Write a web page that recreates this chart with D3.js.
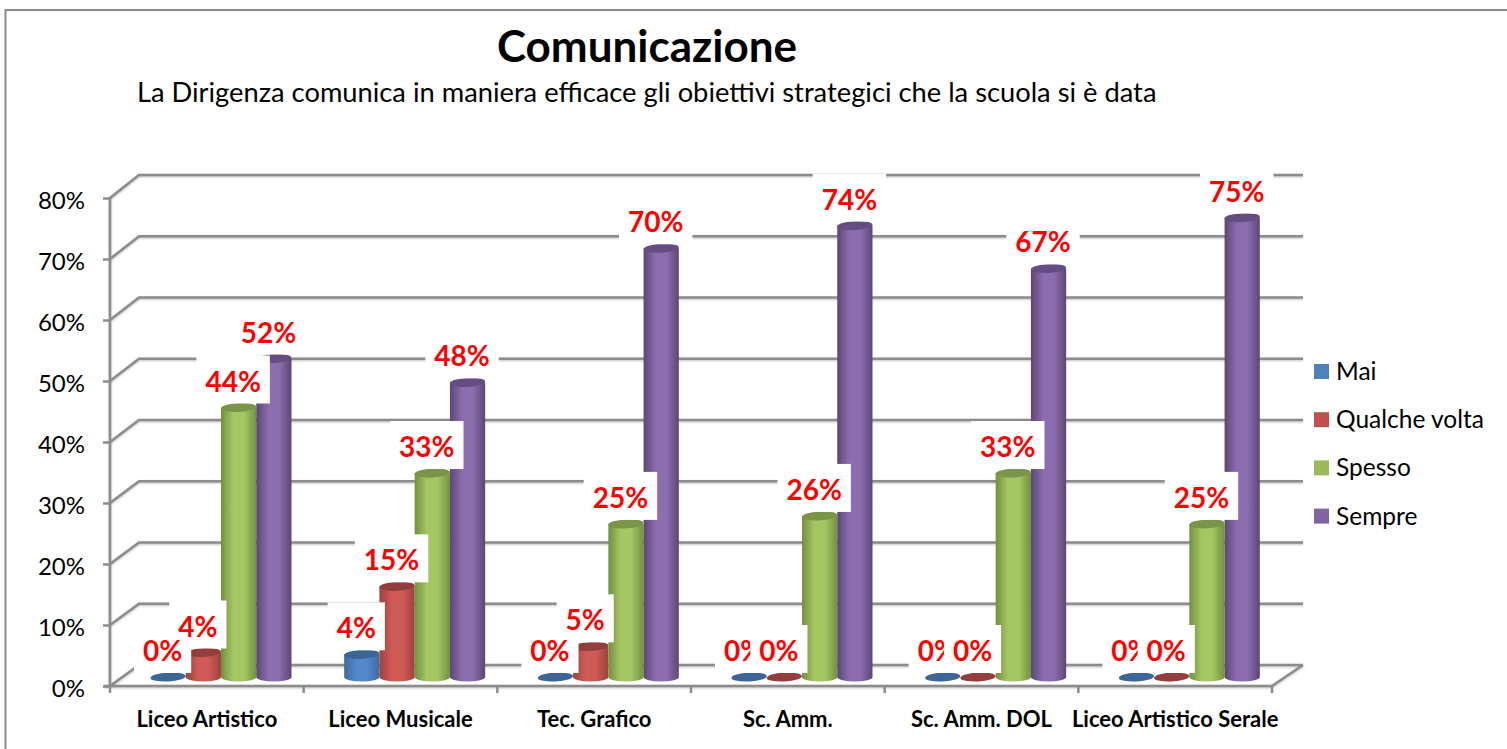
<!DOCTYPE html>
<html>
<head>
<meta charset="utf-8">
<script src="https://cdn.jsdelivr.net/npm/d3@7"></script>
<style>
  html, body { margin: 0; padding: 0; background: #fff; overflow: hidden; }
  svg { display: block; font-family: Lato, "Open Sans", sans-serif; }
  .axis path { display: none; }
  .axis line { stroke: #8c8c8c; stroke-width: 2.5; }
</style>
</head>
<body>
<svg id="chart" width="1507" height="749"></svg>
<script>
const categories = ["Liceo Artistico", "Liceo Musicale", "Tec. Grafico", "Sc. Amm.", "Sc. Amm. DOL", "Liceo Artistico Serale"];
const seriesNames = ["Mai", "Qualche volta", "Spesso", "Sempre"];
const mai = [0, 0.037, 0, 0, 0, 0];
const qualcheVolta = [0.04, 0.148, 0.05, 0, 0, 0];
const spesso = [0.44, 0.333, 0.25, 0.263, 0.333, 0.25];
const sempre = [0.52, 0.481, 0.70, 0.737, 0.667, 0.75];
const tickValues = [0, 0.1, 0.2, 0.3, 0.4, 0.5, 0.6, 0.7, 0.8];

const seriesValues = [mai, qualcheVolta, spesso, sempre];
const colors = [
  { edge: "#3f6a9e", mid: "#5189cb", cap: "#3c6695", key: "#4f81bd" },
  { edge: "#9c423f", mid: "#d05a56", cap: "#933e3c", key: "#c0504d" },
  { edge: "#72903e", mid: "#a5c763", cap: "#7a9448", key: "#9bbb59" },
  { edge: "#5c4774", mid: "#8b6db0", cap: "#644d80", key: "#8064a2" }
];

const svg = d3.select("#chart");
const defs = svg.append("defs");

// front corner of the 3d box
const plot = { left: 110, right: 1272, top: 198, bottom: 686 };
const backLeft = 139;
const backRight = 1303;

const x = d3.scaleBand().domain(categories).range([plot.left, plot.right]);
const y = d3.scaleLinear().domain([0, 0.8]).range([plot.bottom, plot.top]);
// back wall has its own slightly taller scale
const yBack = d3.scaleLinear().domain([0, 0.8]).range([665, 175]);
const barLift = 12;   // bars stand in front of the back wall
const xInner = d3.scaleBand().domain(seriesNames).range([40.5, 181.5]);

const rx = xInner.bandwidth() / 2;
const ry = 4.5;
const pct = d3.format(".0%");

colors.forEach((c, i) => {
  const grad = defs.append("linearGradient").attr("id", "cyl" + i);
  grad.append("stop").attr("offset", "0%").attr("stop-color", c.edge);
  grad.append("stop").attr("offset", "35%").attr("stop-color", c.mid);
  grad.append("stop").attr("offset", "65%").attr("stop-color", c.mid);
  grad.append("stop").attr("offset", "100%").attr("stop-color", c.edge);
});

// chart frame, runs off the right and bottom of the picture
svg.append("path")
  .attr("d", "M5.5,749V10H1507")
  .attr("fill", "none")
  .attr("stroke", "#8c8c8c")
  .attr("stroke-width", 2);

svg.append("text")
  .attr("x", 647)
  .attr("y", 62)
  .attr("text-anchor", "middle")
  .attr("font-weight", 700)
  .attr("font-size", 44)
  .attr("fill", "#000")
  .text("Comunicazione");

svg.append("text")
  .attr("x", 137)
  .attr("y", 102)
  .attr("font-size", 27.3)
  .attr("fill", "#000")
  .text("La Dirigenza comunica in maniera efficace gli obiettivi strategici che la scuola si è data");

// walls: one line on the back wall plus the diagonal going to the front
const walls = svg.append("g")
  .attr("fill", "none")
  .attr("stroke", "#8c8c8c")
  .attr("stroke-width", 2.5)
  .style("filter", "drop-shadow(0 1px 1px rgba(0,0,0,0.25))");

walls.selectAll("path")
  .data(tickValues)
  .enter()
  .append("path")
  .attr("d", d => `M${plot.left},${y(d)}L${backLeft},${yBack(d)}H${backRight}`);

walls.append("path")
  .attr("d", `M${plot.right},${plot.bottom}L${backRight},${yBack(0)}`);

const yAxis = svg.append("g")
  .attr("class", "axis")
  .attr("transform", `translate(${plot.left},0)`)
  .call(d3.axisLeft(y).tickValues(tickValues).tickFormat(pct).tickSize(7).tickPadding(18));

yAxis.selectAll("text")
  .attr("font-size", 24)
  .attr("font-family", "Lato")
  .attr("fill", "#000")
  .attr("dy", "0.42em");

walls.append("line")
  .attr("x1", plot.left)
  .attr("x2", plot.left)
  .attr("y1", plot.top)
  .attr("y2", plot.bottom);

walls.append("line")
  .attr("x1", plot.left - 6)
  .attr("x2", plot.right)
  .attr("y1", plot.bottom)
  .attr("y2", plot.bottom);

const xAxis = svg.append("g")
  .attr("class", "axis")
  .attr("transform", `translate(0,${plot.bottom})`)
  .call(d3.axisBottom(x).tickSize(0).tickPadding(25));

xAxis.selectAll("text")
  .attr("font-size", 22)
  .attr("font-weight", 700)
  .attr("font-family", "Lato")
  .attr("fill", "#000");

// separators between the categories
xAxis.selectAll(".sep")
  .data(categories.map(d => x(d)).concat(plot.right))
  .enter()
  .append("line")
  .attr("class", "sep")
  .attr("x1", d => d)
  .attr("x2", d => d)
  .attr("y1", 0)
  .attr("y2", 7);

// flat list of bars, series by series, drawn per category so later ones overlap
const bars = [];
categories.forEach((cat, c) => {
  seriesNames.forEach((name, s) => {
    const v = seriesValues[s][c];
    const nextV = s < seriesNames.length - 1 ? seriesValues[s + 1][c] : null;
    bars.push({
      cat: cat,
      series: s,
      value: v,
      tied: nextV === v,
      cx: x(cat) + xInner(name) + rx,
      top: yBack(v) + barLift,
      base: yBack(0) + barLift
    });
  });
});

const barG = svg.append("g");

barG.selectAll(".cyl")
  .data(bars.filter(d => d.value > 0))
  .enter()
  .append("path")
  .attr("class", "cyl")
  .attr("fill", d => `url(#cyl${d.series})`)
  .attr("d", d => `M${d.cx - rx},${d.top}V${d.base}A${rx},${ry} 0 0 0 ${d.cx + rx},${d.base}V${d.top}Z`);

barG.selectAll(".cap")
  .data(bars)
  .enter()
  .append("ellipse")
  .attr("class", "cap")
  .attr("cx", d => d.cx)
  .attr("cy", d => d.top)
  .attr("rx", rx)
  .attr("ry", ry)
  .attr("fill", d => colors[d.series].cap)
  .attr("transform", d => `rotate(-3,${d.cx},${d.top})`);

// data labels sit in white boxes that hide whatever is behind them
const boxLayer = svg.append("g");
const textLayer = svg.append("g");

function addLabelText(layer, d) {
  return layer.append("text")
    .attr("x", d.cx - 5.5)
    .attr("y", d.top - 16)
    .attr("text-anchor", "middle")
    .attr("font-size", 28)
    .attr("font-weight", 700)
    .attr("fill", "#ff0000")
    .text(pct(d.value));
}

d3.range(seriesNames.length).forEach(s => {
  bars.filter(d => d.series === s).forEach(d => {
    // same height as the next label: the next box cuts into this text
    const t = addLabelText(d.tied ? boxLayer : textLayer, d);
    const w = t.node().getComputedTextLength() + 18;
    boxLayer.insert("rect", d.tied ? "text:last-child" : null)
      .attr("x", d.cx - 5.5 - w / 2)
      .attr("y", d.top - 52)
      .attr("width", w)
      .attr("height", 48)
      .attr("fill", "#fff");
  });
});

const legend = svg.append("g")
  .attr("transform", "translate(1314,364)");

const legendRow = legend.selectAll("g")
  .data(seriesNames)
  .enter()
  .append("g")
  .attr("transform", (d, i) => `translate(0,${i * 48.2})`);

legendRow.append("rect")
  .attr("width", 15)
  .attr("height", 15)
  .attr("fill", (d, i) => colors[i].key);

legendRow.append("text")
  .attr("x", 22)
  .attr("y", 16)
  .attr("font-size", 24.5)
  .attr("fill", "#000")
  .text(d => d);
</script>
</body>
</html>
